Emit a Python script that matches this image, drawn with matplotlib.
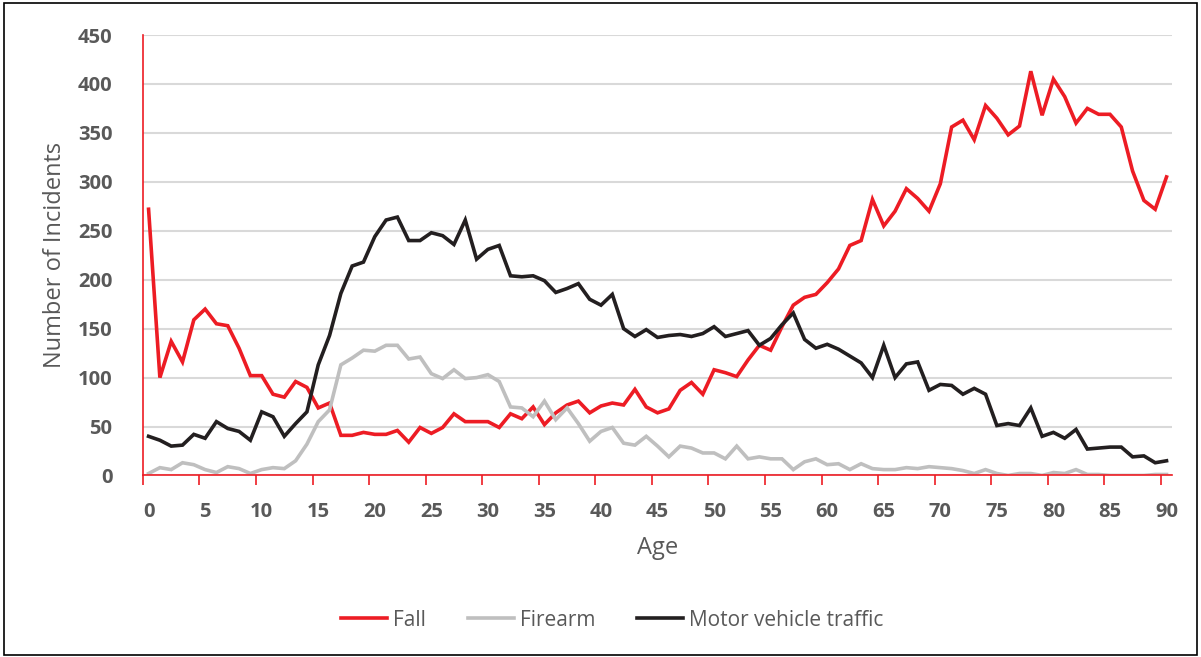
import numpy as np
import matplotlib
matplotlib.use("Agg")
import matplotlib.pyplot as plt
from matplotlib.patches import Rectangle

# ages 0..90
ages = list(range(91))

fall = [272, 100, 137, 116, 159, 170, 155, 153, 130, 102,
        102, 83, 80, 96, 90, 69, 74, 41, 41, 44,
        42, 42, 46, 34, 49, 43, 49, 63, 55, 55,
        55, 49, 63, 58, 70, 52, 64, 72, 76, 64,
        71, 74, 72, 88, 70, 64, 68, 87, 95, 83,
        108, 105, 101, 118, 133, 128, 152, 174, 182, 185,
        197, 211, 235, 240, 282, 255, 270, 293, 283, 270,
        298, 356, 363, 343, 378, 365, 348, 357, 413, 368,
        405, 387, 360, 375, 369, 369, 356, 311, 281, 272,
        305]

firearm = [2, 8, 6, 13, 11, 6, 3, 9, 7, 2,
           6, 8, 7, 15, 32, 55, 67, 113, 120, 128,
           127, 133, 133, 119, 121, 104, 99, 108, 99, 100,
           103, 96, 70, 69, 60, 76, 57, 69, 53, 35,
           45, 49, 33, 31, 40, 30, 19, 30, 28, 23,
           23, 17, 30, 17, 19, 17, 17, 6, 14, 17,
           11, 12, 6, 12, 7, 6, 6, 8, 7, 9,
           8, 7, 5, 2, 6, 2, 0, 2, 2, 0,
           3, 2, 6, 1, 1, 0, 0, 0, 0, 1,
           1]

motor = [40, 36, 30, 31, 42, 38, 55, 48, 45, 36,
         65, 60, 40, 53, 65, 113, 143, 186, 214, 218,
         244, 261, 264, 240, 240, 248, 245, 236, 261, 221,
         231, 235, 204, 203, 204, 199, 187, 191, 196, 180,
         174, 185, 150, 142, 149, 141, 143, 144, 142, 145,
         152, 142, 145, 148, 133, 140, 154, 166, 139, 130,
         134, 129, 122, 115, 100, 133, 100, 114, 116, 87,
         93, 92, 83, 89, 83, 51, 53, 51, 69, 40,
         44, 38, 47, 27, 28, 29, 29, 19, 20, 13,
         15]

red = "#ED1C24"
grey = "#BFBFBF"
black = "#231F20"
txt = "#595959"

plt.rcParams['font.family'] = ['Open Sans', 'DejaVu Sans']

fig = plt.figure(figsize=(12.01, 6.57), dpi=100)
ax = fig.add_axes([0.119, 0.2763, 0.857, 0.6704])

ax.plot(ages, fall, color=red, lw=2.6, label="Fall", solid_joinstyle="miter")
ax.plot(ages, firearm, color=grey, lw=2.6, label="Firearm", solid_joinstyle="miter")
ax.plot(ages, motor, color=black, lw=2.6, label="Motor vehicle traffic", solid_joinstyle="miter")

ax.set_xlim(-0.5, 90.5)
ax.set_ylim(0, 450)
ax.set_yticks(range(0, 451, 50))
ax.grid(axis="y", color="#D9D9D9", lw=1.5)
ax.set_axisbelow(True)

ax.set_xticks(range(0, 91, 5))
ax.set_xticks(np.arange(-0.5, 90, 5), minor=True)
ax.tick_params(axis="x", which="major", length=0, pad=19, labelsize=14.5, labelcolor=txt)
ax.tick_params(axis="x", which="minor", length=7, width=1.2, color=red, direction="out")
ax.tick_params(axis="y", length=0, pad=22, labelsize=14.5, labelcolor=txt)
for lb in ax.get_xticklabels() + ax.get_yticklabels():
    lb.set_fontweight("bold")

for s in ["top", "right"]:
    ax.spines[s].set_visible(False)
for s in ["left", "bottom"]:
    ax.spines[s].set_color(red)
    ax.spines[s].set_linewidth(1.2)

ax.set_xlabel("Age", fontsize=17, color=txt, labelpad=10)
ax.set_ylabel("Number of Incidents", fontsize=17, color=txt, labelpad=8)

fig.legend(loc="center", bbox_to_anchor=(0.51, 0.056), ncol=3, frameon=False,
           fontsize=15, labelcolor=txt, handlelength=2.2, columnspacing=2, handletextpad=0.3)

fig.patches.append(Rectangle((0.003, 0.003), 0.994, 0.992, transform=fig.transFigure,
                             fill=False, edgecolor="black", lw=1.2))

fig.savefig("out.png", dpi=100)
